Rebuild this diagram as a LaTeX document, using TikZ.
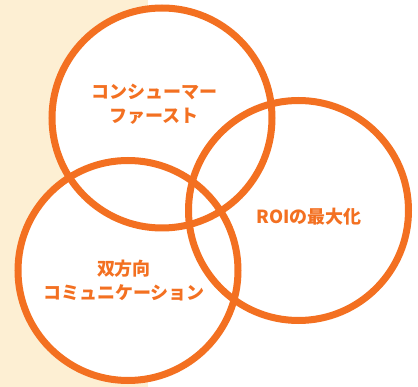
\documentclass[tikz,border=0pt]{standalone}
\usepackage{fontspec}
\newfontfamily\jp{Noto Sans CJK JP}
\definecolor{ring}{HTML}{F37021}
\definecolor{cream}{HTML}{FDEFD3}
\begin{document}
\begin{tikzpicture}[x=1pt,y=-1pt,
  ring/.style={draw=ring,line width=7pt},
  lbl/.style={text=ring,font=\jp\bfseries\fontsize{18}{24}\selectfont,align=center,inner sep=0pt}]
\useasboundingbox (0,0) rectangle (418,387);
\fill[white] (0,0) rectangle (418,387);
\fill[cream] (0,0) rectangle (148,387);
\coordinate (ca) at (162,118);
\coordinate (cb) at (298.5,210.5);
\coordinate (cc) at (128,270.5);
\fill[white] (ca) circle (110);
\fill[white] (cb) circle (110);
\fill[white] (cc) circle (110);
\draw[ring] (ca) circle (110);
\draw[ring] (cb) circle (110);
\draw[ring] (cc) circle (110);
\node[lbl] (ta) at (154,104) {コンシューマー\\ファースト};
\node[lbl] (tb) at (309,217) {ROIの最大化};
\node[lbl] (tc) at (124,281) {双方向\\コミュニケーション};
\end{tikzpicture}
\end{document}
